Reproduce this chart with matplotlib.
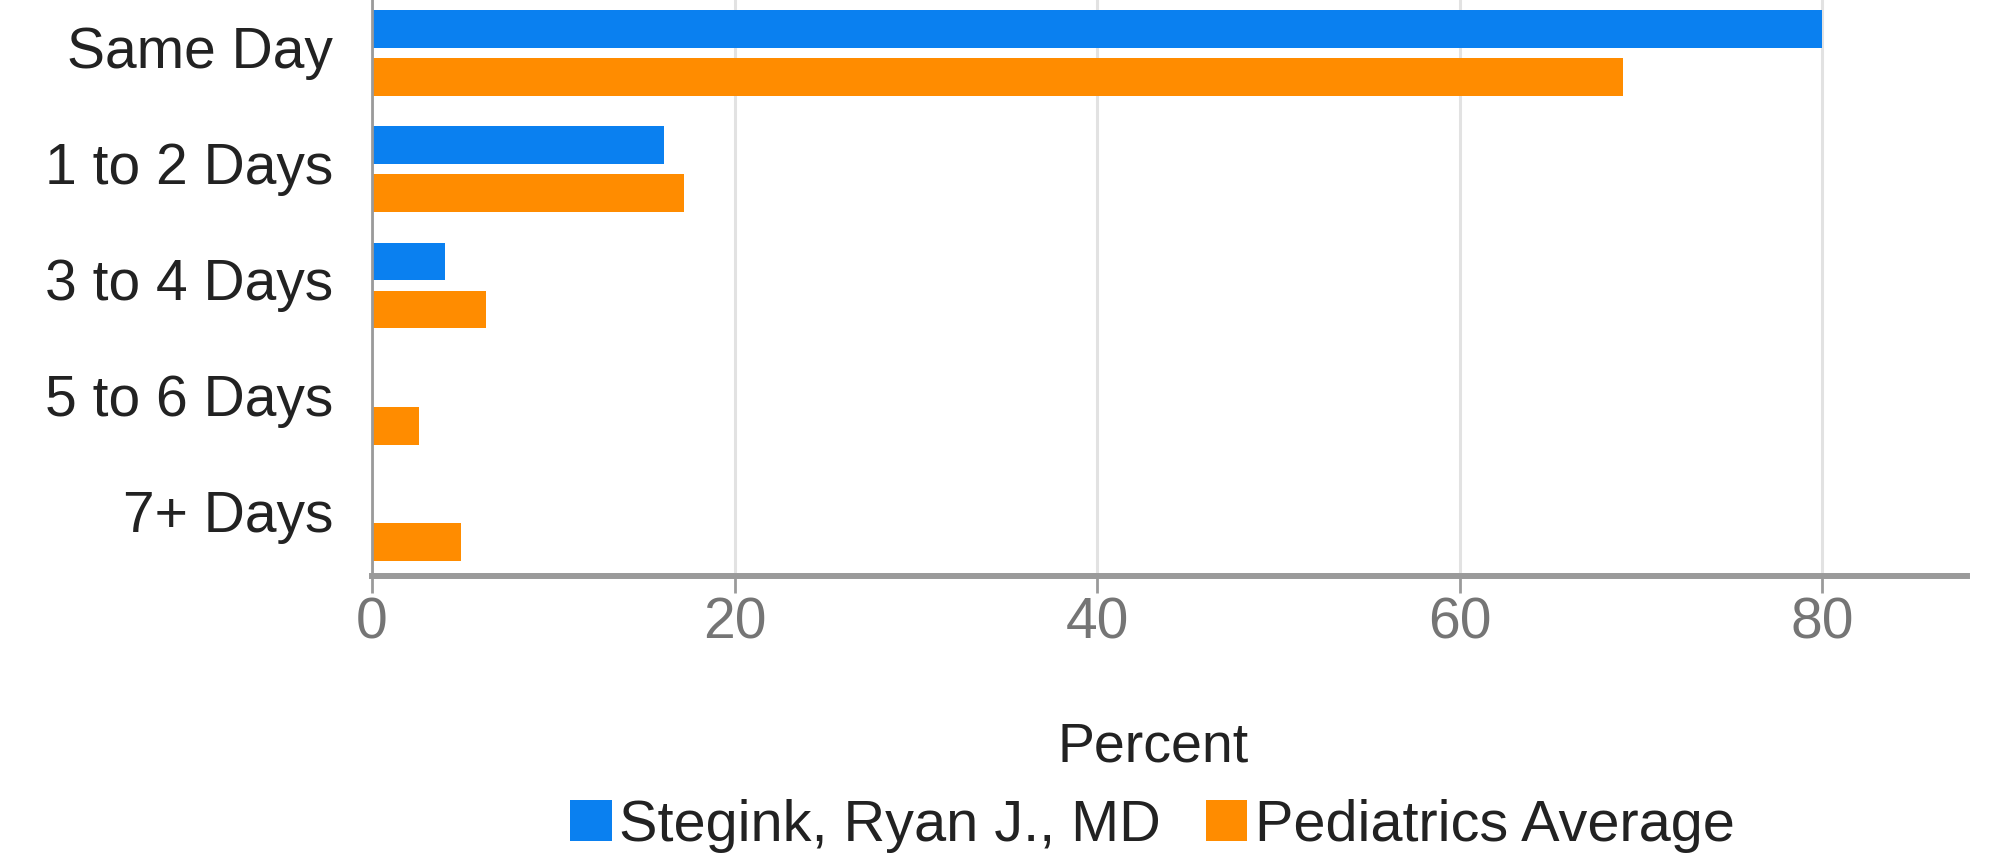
import numpy as np
import matplotlib
matplotlib.use("Agg")
from matplotlib import pyplot as plt
from matplotlib.transforms import ScaledTranslation

plt.rcParams["font.family"] = ["Liberation Sans", "DejaVu Sans"]

categories = ["Same Day", "1 to 2 Days", "3 to 4 Days", "5 to 6 Days", "7+ Days"]
provider = [80, 16.1, 4.0, 0, 0]
specialty = [69, 17.2, 6.3, 2.6, 4.9]
series_names = ["Stegink, Ryan J., MD", "Pediatrics Average"]
x_ticks = [0, 20, 40, 60, 80]

BLUE = "#0a80f0"
ORANGE = "#ff8c00"

fig = plt.figure(figsize=(19.93, 8.56), dpi=100)
ax = fig.add_axes([372 / 1993, 1 - 576 / 856, 1595 / 1993, 581 / 856])

y = np.arange(len(categories))
bar_h = 0.325
b1 = ax.barh(y - 0.207, provider, height=bar_h, color=BLUE, label=series_names[0], zorder=3)
b2 = ax.barh(y + 0.207, specialty, height=bar_h, color=ORANGE, label=series_names[1], zorder=3)

ax.set_xlim(0, 88)
ax.set_ylim(4.5, -0.5)

ax.set_xticks(x_ticks)
ax.set_xticklabels([str(t) for t in x_ticks])
ax.set_yticks(y)
ax.set_yticklabels(categories)

ax.grid(axis="x", color="#e2e2e2", linewidth=2.2, zorder=0)
for side in ["top", "right"]:
    ax.spines[side].set_visible(False)
ax.spines["bottom"].set_color("#9a9a9a")
ax.spines["bottom"].set_linewidth(4.3)
ax.spines["bottom"].set_zorder(4)
ax.spines["left"].set_color("#9a9a9a")
ax.spines["left"].set_linewidth(2.0)
ax.spines["left"].set_zorder(4)

ax.tick_params(axis="x", length=12, width=2.0, color="#9a9a9a",
               labelsize=41, labelcolor="#757575", pad=3)
ax.tick_params(axis="y", length=0, labelsize=41, labelcolor="#222222", pad=28)

# category labels sit a little above the middle of each bar pair
shift = ScaledTranslation(0, 0.065, fig.dpi_scale_trans)
for lbl in ax.get_yticklabels():
    lbl.set_transform(lbl.get_transform() + shift)

fig.text(1153 / 1993, 1 - 761 / 856, "Percent", ha="center", va="baseline",
         fontsize=40, color="#222222")

ax.legend(handles=[b1, b2], loc="center left", bbox_to_anchor=(570 / 1993, 1 - 826 / 856),
          bbox_transform=fig.transFigure, ncol=2, frameon=False, fontsize=41.5,
          handlelength=0.72, handleheight=0.72, handletextpad=0.13, columnspacing=0.78,
          borderpad=0, borderaxespad=0, labelcolor="#222222")

fig.savefig("out.png", dpi=100, facecolor="white")
